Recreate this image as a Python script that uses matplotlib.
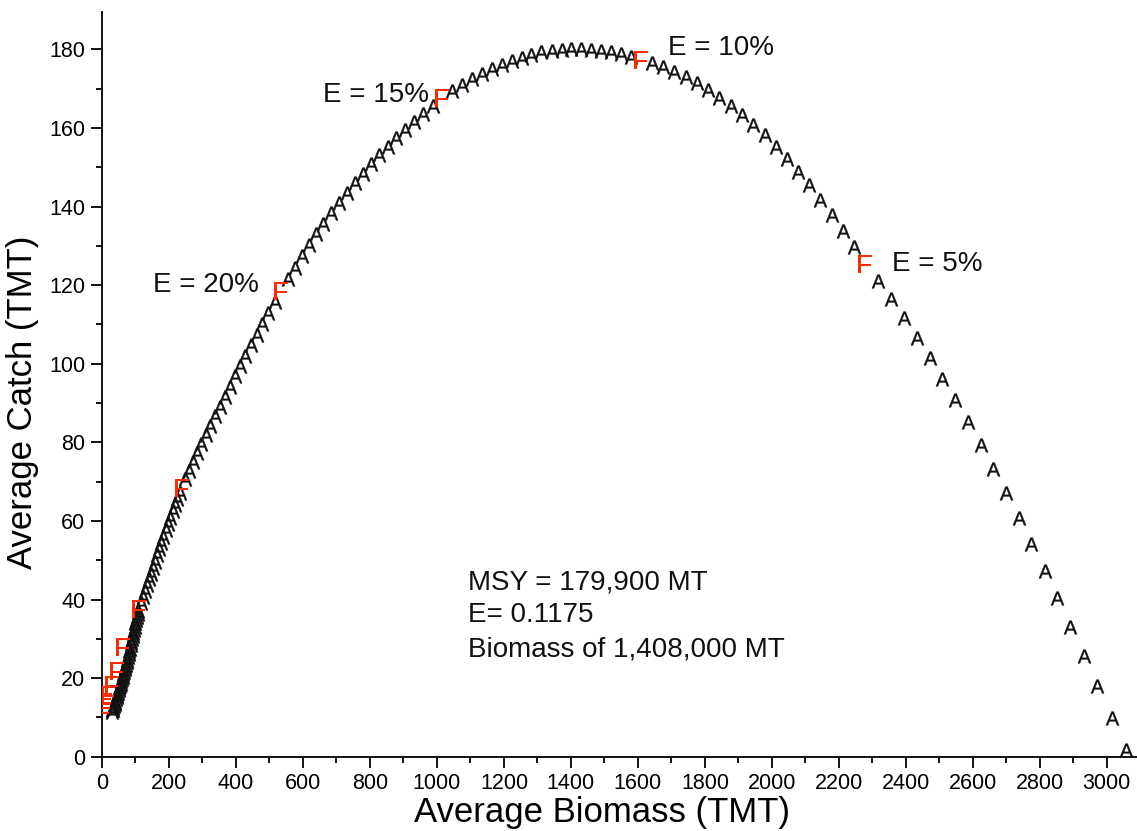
# yield_curve.py
# Average catch vs average biomass for a range of exploitation rates (E).
# Black "A" = simulated averages, red "F" = every 5% step of E.

import matplotlib
matplotlib.use("Agg")
import matplotlib.pyplot as plt
from matplotlib.ticker import MultipleLocator

# ── fonts ──────────────────────────────────────────────────────────────────────
plt.rcParams["font.family"] = ["Liberation Sans", "DejaVu Sans"]
plt.rcParams["mathtext.fontset"] = "custom"
plt.rcParams["mathtext.rm"] = "Liberation Sans"
plt.rcParams["mathtext.sf"] = "Liberation Sans"

# ── data (TMT) ─────────────────────────────────────────────────────────────────
# "A" points, from high E (low biomass) to E = 0
biomass_a = [
    30, 31, 32, 34, 36, 38, 40, 42, 44, 46, 48, 50, 52, 54, 56, 58, 60, 62, 64,
    66, 68, 70, 72, 74, 76, 78, 80, 82, 84, 86, 88, 90, 92, 94, 96, 98, 100,
    102, 104, 106, 108,
    115, 121, 127, 133, 139, 145, 151, 157.5, 164, 170.5, 177, 183.5, 190,
    197, 204, 211, 218, 225, 231.5,
    249, 260, 272, 284, 297, 310, 323, 337, 351, 366, 381, 396, 412, 428,
    445, 462, 479, 497, 515,
    555, 575, 596, 618, 639, 661, 684, 707, 730, 754, 778, 803, 828, 853,
    879, 906, 932, 959, 987,
    1045, 1074, 1104, 1134, 1164, 1193, 1223, 1253, 1282, 1312, 1342, 1372,
    1401, 1431, 1461, 1490, 1520, 1550, 1579,
    1642, 1676, 1709, 1743, 1776, 1810, 1843, 1877, 1911, 1944, 1978, 2011,
    2045, 2078, 2112, 2145, 2179, 2212, 2246,
    2318, 2357, 2395, 2433, 2471, 2509, 2547, 2585, 2623, 2661, 2699, 2737,
    2775, 2814, 2852, 2891, 2931, 2972, 3014, 3056,
]
catch_a = [
    11.5, 11.8, 12.0, 12.5, 13.0, 13.5, 14.0, 14.6, 15.2, 15.8, 16.3, 16.9,
    17.5, 18.0, 18.6, 19.2, 19.8, 20.4, 21.0, 21.6, 22.2, 22.8, 23.4, 24.0,
    24.7, 25.4, 26.1, 26.8, 27.5, 28.3, 29.1, 29.9, 30.7, 31.5, 32.3, 33.1,
    33.9, 34.7, 35.5, 36.3, 37.1,
    39.1, 40.6, 42.1, 43.6, 45.1, 46.6, 48.1, 49.6, 51.2, 52.8, 54.4, 56.0,
    57.6, 59.2, 60.8, 62.4, 64.0, 65.5, 67.0,
    70.6, 72.7, 74.9, 77.2, 79.5, 81.8, 84.2, 86.6, 89.1, 91.6, 94.2, 96.8,
    99.4, 102.0, 104.7, 107.4, 110.2, 112.9, 115.7,
    121.5, 124.4, 127.3, 130.1, 132.9, 135.6, 138.3, 140.9, 143.4, 145.9,
    148.3, 150.7, 153.0, 155.2, 157.4, 159.5, 161.6, 163.6, 165.6,
    169.3, 170.9, 172.4, 173.8, 175.0, 176.1, 177.1, 177.9, 178.6, 179.2,
    179.6, 179.9, 180.0, 180.0, 179.9, 179.6, 179.2, 178.7, 178.0,
    176.5, 175.5, 174.3, 173.0, 171.4, 169.7, 167.7, 165.6, 163.3, 160.8,
    158.1, 155.2, 152.1, 148.8, 145.4, 141.7, 137.9, 133.8, 129.6,
    121.0, 116.4, 111.6, 106.6, 101.5, 96.2, 90.8, 85.1, 79.3, 73.3, 67.1,
    60.7, 54.1, 47.3, 40.3, 33.1, 25.6, 17.9, 9.9, 1.6,
]

# "F" points at E = 5%, 10%, 15%, ...
biomass_f = [2279, 1609, 1015, 535, 238, 109, 64, 45, 30, 18, 10, 6, 4]
catch_f = [125.5, 177.3, 167.5, 118.5, 68.5, 37.6, 28.0, 21.8, 18.2, 15.6,
           14.0, 12.7, 11.4]

e_labels = ["E = 5%", "E = 10%", "E = 15%", "E = 20%"]
e_label_x = [2358, 1690, 661, 153]
e_label_y = [125.5, 180.3, 168.4, 120.0]

msy_lines = ["MSY = 179,900 MT", "E= 0.1175", "Biomass of 1,408,000 MT"]
msy_x = 1093
msy_y = [44.3, 36.0, 27.3]

# ── figure ─────────────────────────────────────────────────────────────────────
fig = plt.figure(figsize=(11.37, 8.31), dpi=100)
ax = fig.add_axes([102 / 1137, 74.3 / 831, 1035 / 1137, 744.7 / 831])

ax.plot(biomass_a, catch_a, linestyle="none", marker=r"$\mathrm{A}$",
        markersize=9.8, color="#111111", markeredgecolor="#111111",
        markeredgewidth=0.3)
ax.plot(biomass_f, catch_f, linestyle="none", marker=r"$\mathrm{F}$",
        markersize=13.5, color="#ff2a00", markeredgewidth=0, zorder=3)

for lab, x, y in zip(e_labels, e_label_x, e_label_y):
    ax.text(x, y, lab, fontsize=20, ha="left", va="center", color="#111111")

for line, y in zip(msy_lines, msy_y):
    ax.text(msy_x, y, line, fontsize=20, ha="left", va="center", color="#111111")

# ── axes styling ───────────────────────────────────────────────────────────────
ax.set_xlim(0, 3090)
ax.set_ylim(0, 189.5)
ax.spines["top"].set_visible(False)
ax.spines["right"].set_visible(False)
for side in ("left", "bottom"):
    ax.spines[side].set_linewidth(1.4)
    ax.spines[side].set_color("#111111")

ax.xaxis.set_major_locator(MultipleLocator(200))
ax.xaxis.set_minor_locator(MultipleLocator(100))
ax.yaxis.set_major_locator(MultipleLocator(20))
ax.yaxis.set_minor_locator(MultipleLocator(10))
ax.tick_params(which="major", direction="out", length=8, width=1.4,
               labelsize=15.5, pad=4, color="#111111")
ax.tick_params(which="minor", direction="out", length=4.5, width=1.4,
               color="#111111")

ax.set_xlabel("Average Biomass (TMT)", fontsize=25, va="center")
ax.set_ylabel("Average Catch (TMT)", fontsize=25, va="center")
ax.xaxis.set_label_coords(0.483, -0.0755)
ax.yaxis.set_label_coords(-0.077, 0.476)

fig.savefig("out.png", dpi=100)
